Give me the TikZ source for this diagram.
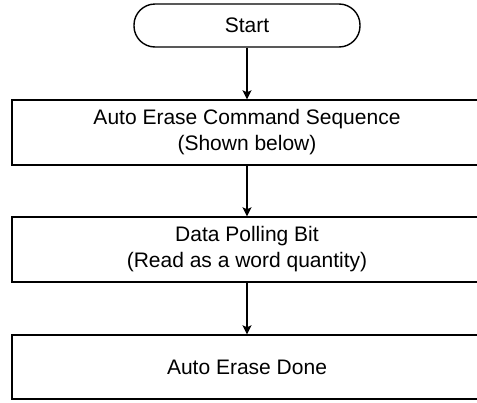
\documentclass[tikz,border=0pt]{standalone}
\usepackage{fontspec}
\setmainfont{Liberation Sans}
\usetikzlibrary{arrows.meta}
\tikzset{
  box/.style={draw=black, line width=1.4pt, minimum width=470pt, minimum height=65pt, align=center, inner sep=0pt, font=\fontsize{21}{26}\selectfont},
  term/.style={draw=black, line width=1.4pt, minimum width=226pt, minimum height=43pt, rounded corners=21pt, inner sep=0pt, font=\fontsize{21}{26}\selectfont},
  flow/.style={line width=1.4pt, -{Stealth[length=9pt,width=9pt,inset=2pt]}}
}
\begin{document}
\begin{tikzpicture}[x=1pt,y=-1pt]
\useasboundingbox (0,0) rectangle (477,402);
\clip (0,0) rectangle (477,402);
\node[term] (start) at (247,25.5) {Start};
\node[box] (seq) at (247,132.5) {Auto Erase Command Sequence\\(Shown below)};
\node[box] (poll) at (247,249.5) {Data Polling Bit\\(Read as a word quantity)};
\node[box, minimum height=64pt] (done) at (247,367) {Auto Erase Done};
\draw[flow] (start) -- (seq);
\draw[flow] (seq) -- (poll);
\draw[flow] (poll) -- (done);
\end{tikzpicture}
\end{document}
